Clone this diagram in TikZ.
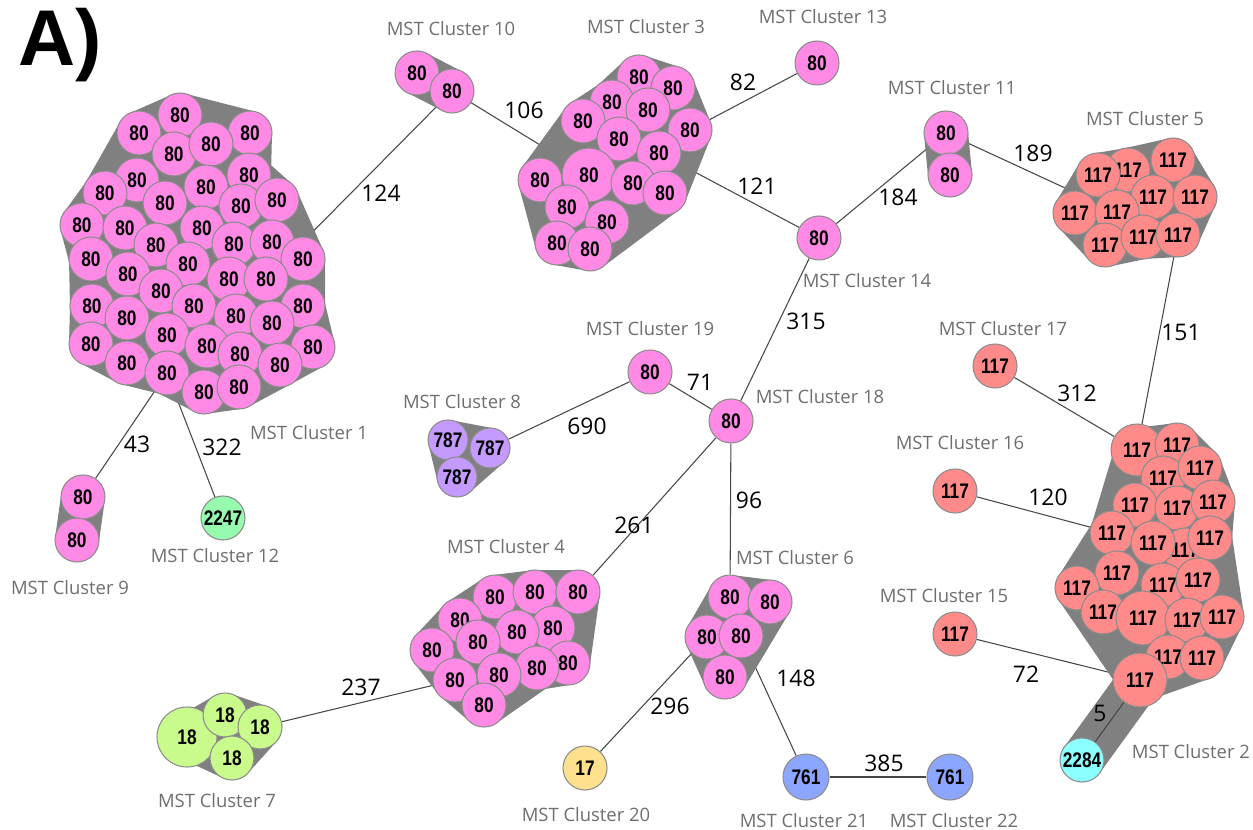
\documentclass[tikz,border=0pt]{standalone}
\usepackage{fontspec}
\setmainfont{Open Sans}
\newfontfamily\numfont{Liberation Sans}[FakeStretch=0.82]
\newfontfamily\headfont{Liberation Sans}
\usetikzlibrary{backgrounds}

\definecolor{pinkn}{RGB}{255,138,230}
\definecolor{salmonn}{RGB}{255,138,138}
\definecolor{purplen}{RGB}{196,154,255}
\definecolor{mintn}{RGB}{150,250,175}
\definecolor{limen}{RGB}{200,250,140}
\definecolor{yellown}{RGB}{255,224,140}
\definecolor{bluen}{RGB}{140,165,255}
\definecolor{cyann}{RGB}{140,255,255}
\definecolor{hullgray}{RGB}{128,128,128}
\definecolor{nodeedge}{RGB}{140,140,140}
\definecolor{labgray}{RGB}{110,110,110}
\definecolor{linkgray}{RGB}{70,70,70}

\tikzset{
	clu/.style={circle, draw=nodeedge, line width=0.6pt, inner sep=0pt, minimum size=0.88cm,
		font=\numfont\bfseries\fontsize{12}{12}\selectfont},
	big/.style={minimum size=1.08cm},
	pk/.style={clu, fill=pinkn},
	sal/.style={clu, fill=salmonn},
	clab/.style={text=labgray, font=\fontsize{10.5}{12}\selectfont},
	elab/.style={font=\fontsize{13}{14}\selectfont},
	hull/.style={draw=hullgray, fill=hullgray, line width=0.88cm, line join=round, line cap=round},
	link/.style={draw=linkgray, line width=0.6pt}
}

\begin{document}
\begin{tikzpicture}[x=0.02cm, y=-0.02cm]
	\useasboundingbox (0,0) rectangle (1253,830);
	\node[font=\headfont\bfseries\fontsize{45}{45}\selectfont] (tag) at (60,45) {A)};

	% MST Cluster 1
	\node[pk] (c1-1) at (180,115) {80};
	\node[pk] (c1-2) at (139,133) {80};
	\node[pk] (c1-3) at (250,133) {80};
	\node[pk] (c1-4) at (174,154) {80};
	\node[pk] (c1-5) at (211,144) {80};
	\node[pk] (c1-6) at (137,180) {80};
	\node[pk] (c1-7) at (249,175) {80};
	\node[pk] (c1-8) at (105,193) {80};
	\node[pk] (c1-9) at (165,203) {80};
	\node[pk] (c1-10) at (206,187) {80};
	\node[pk] (c1-11) at (241,206) {80};
	\node[pk] (c1-12) at (277,200) {80};
	\node[pk] (c1-13) at (82,225) {80};
	\node[pk] (c1-14) at (125,228) {80};
	\node[pk] (c1-15) at (202,228) {80};
	\node[pk] (c1-16) at (156,245) {80};
	\node[pk] (c1-17) at (234,244) {80};
	\node[pk] (c1-18) at (272,242) {80};
	\node[pk] (c1-19) at (303,259) {80};
	\node[pk] (c1-20) at (91,259) {80};
	\node[pk] (c1-21) at (128,274) {80};
	\node[pk] (c1-22) at (188,264) {80};
	\node[pk] (c1-23) at (229,279) {80};
	\node[pk] (c1-24) at (266,279) {80};
	\node[pk] (c1-25) at (161,291) {80};
	\node[pk] (c1-26) at (303,306) {80};
	\node[pk] (c1-27) at (92,306) {80};
	\node[pk] (c1-28) at (127,318) {80};
	\node[pk] (c1-29) at (194,306) {80};
	\node[pk] (c1-30) at (236,316) {80};
	\node[pk] (c1-31) at (272,323) {80};
	\node[pk] (c1-32) at (167,335) {80};
	\node[pk] (c1-33) at (313,347) {80};
	\node[pk] (c1-34) at (91,344) {80};
	\node[pk] (c1-35) at (127,363) {80};
	\node[pk] (c1-36) at (207,346) {80};
	\node[pk] (c1-37) at (240,354) {80};
	\node[pk] (c1-38) at (280,365) {80};
	\node[pk] (c1-39) at (167,373) {80};
	\node[pk] (c1-40) at (204,392) {80};
	\node[pk] (c1-41) at (239,387) {80};

	% MST Cluster 3
	\node[pk] (c3-1) at (639,77) {80};
	\node[pk] (c3-2) at (673,88) {80};
	\node[pk] (c3-3) at (612,102) {80};
	\node[pk] (c3-4) at (648,110) {80};
	\node[pk] (c3-5) at (583,121) {80};
	\node[pk] (c3-6) at (690,130) {80};
	\node[pk] (c3-7) at (619,139) {80};
	\node[pk] (c3-8) at (659,153) {80};
	\node[pk,big] (c3-9) at (589,175) {80};
	\node[pk] (c3-10) at (540,180) {80};
	\node[pk] (c3-11) at (633,183) {80};
	\node[pk] (c3-12) at (665,193) {80};
	\node[pk] (c3-13) at (567,207) {80};
	\node[pk] (c3-14) at (607,222) {80};
	\node[pk] (c3-15) at (557,243) {80};
	\node[pk] (c3-16) at (590,249) {80};

	% MST Cluster 5
	\node[sal] (c5-1) at (1128,170) {117};
	\node[sal] (c5-2) at (1173,160) {117};
	\node[sal] (c5-3) at (1098,175) {117};
	\node[sal] (c5-4) at (1153,197) {117};
	\node[sal] (c5-5) at (1195,197) {117};
	\node[sal] (c5-6) at (1075,213) {117};
	\node[sal] (c5-7) at (1117,212) {117};
	\node[sal] (c5-8) at (1105,245) {117};
	\node[sal] (c5-9) at (1143,237) {117};
	\node[sal] (c5-10) at (1178,235) {117};

	% MST Cluster 2
	\node[sal,minimum size=1.04cm] (c2-1) at (1137,450) {117};
	\node[sal] (c2-2) at (1177,445) {117};
	\node[sal] (c2-3) at (1163,478) {117};
	\node[sal] (c2-4) at (1200,468) {117};
	\node[sal] (c2-5) at (1135,505) {117};
	\node[sal] (c2-6) at (1177,508) {117};
	\node[sal] (c2-7) at (1213,502) {117};
	\node[sal] (c2-8) at (1112,533) {117};
	\node[sal] (c2-10) at (1185,550) {117};
	\node[sal] (c2-9) at (1153,543) {117};
	\node[sal] (c2-11) at (1210,538) {117};
	\node[sal] (c2-12) at (1117,573) {117};
	\node[sal] (c2-13) at (1077,588) {117};
	\node[sal] (c2-14) at (1163,585) {117};
	\node[sal] (c2-15) at (1198,580) {117};
	\node[sal] (c2-16) at (1103,612) {117};
	\node[sal,big] (c2-17) at (1143,618) {117};
	\node[sal] (c2-18) at (1187,620) {117};
	\node[sal] (c2-19) at (1222,617) {117};
	\node[sal] (c2-20) at (1168,657) {117};
	\node[sal] (c2-21) at (1202,658) {117};
	\node[sal,big] (c2-22) at (1140,680) {117};
	\node[clu,fill=cyann] (c2x) at (1082,760) {2284};

	% MST Cluster 4
	\node[pk] (c4-1) at (495,597) {80};
	\node[pk] (c4-2) at (535,592) {80};
	\node[pk] (c4-3) at (578,592) {80};
	\node[pk] (c4-4) at (460,620) {80};
	\node[pk] (c4-5) at (553,628) {80};
	\node[pk] (c4-6) at (517,632) {80};
	\node[pk] (c4-7) at (478,642) {80};
	\node[pk] (c4-8) at (432,650) {80};
	\node[pk] (c4-9) at (568,663) {80};
	\node[pk] (c4-10) at (537,668) {80};
	\node[pk] (c4-11) at (499,675) {80};
	\node[pk] (c4-12) at (455,680) {80};
	\node[pk] (c4-13) at (484,705) {80};

	% MST Cluster 6
	\node[pk] (c6-1) at (730,597) {80};
	\node[pk] (c6-2) at (770,602) {80};
	\node[pk] (c6-3) at (707,637) {80};
	\node[pk] (c6-4) at (741,636) {80};
	\node[pk] (c6-5) at (725,677) {80};

	% MST Cluster 7
	\node[clu,fill=limen,minimum size=1.2cm] (c7-1) at (187,737) {18};
	\node[clu,fill=limen] (c7-2) at (225,715) {18};
	\node[clu,fill=limen] (c7-3) at (260,727) {18};
	\node[clu,fill=limen] (c7-4) at (232,758) {18};

	% MST Cluster 8
	\node[clu,fill=purplen,minimum size=0.8cm] (c8-1) at (448,440) {787};
	\node[clu,fill=purplen,minimum size=0.8cm] (c8-2) at (490,448) {787};
	\node[clu,fill=purplen,minimum size=0.8cm] (c8-3) at (457,477) {787};

	% small clusters
	\node[pk] (c9-1) at (83,497) {80};
	\node[pk] (c9-2) at (77,540) {80};
	\node[pk] (c10-1) at (417,73) {80};
	\node[pk] (c10-2) at (452,91) {80};
	\node[pk] (c11-1) at (946,133) {80};
	\node[pk] (c11-2) at (950,175) {80};
	\node[clu,fill=mintn] (c12) at (223,518) {2247};
	\node[pk] (c13) at (817,63) {80};
	\node[pk] (c14) at (819,238) {80};
	\node[sal] (c15) at (955,634) {117};
	\node[sal] (c16) at (955,491) {117};
	\node[sal] (c17) at (995,366) {117};
	\node[pk] (c18) at (731,421) {80};
	\node[pk] (c19) at (650,372) {80};
	\node[clu,fill=yellown] (c20) at (585,768) {17};
	\node[clu,fill=bluen,minimum size=0.92cm] (c21) at (806,777) {761};
	\node[clu,fill=bluen,minimum size=0.92cm] (c22) at (950,777) {761};

	\draw[link] (c2-22) -- (c2x);

	\begin{scope}[on background layer]
	% links between clusters
	\draw[link] (c1-24) -- (c10-2);
	\draw[link] (c10-2) -- (c3-9);
	\draw[link] (c3-6) -- (c13);
	\draw[link] (c3-8) -- (c14);
	\draw[link] (c14) -- (c11-1);
	\draw[link] (c11-1) -- (c5-7);
	\draw[link] (c5-10) -- (c2-1);
	\draw[link] (c17) -- (c2-1);
	\draw[link] (c16) -- (c2-8);
	\draw[link] (c15) -- (c2-22);
	\draw[link] (c14) -- (c18);
	\draw[link] (c19) -- (c18);
	\draw[link] (c19) -- (c8-2);
	\draw[link] (c18) -- (c4-3);
	\draw[link] (c18) -- (c6-1);
	\draw[link] (c6-3) -- (c20);
	\draw[link] (c6-4) -- (c21);
	\draw[link] (c21) -- (c22);
	\draw[link] (c4-12) -- (c7-3);
	\draw[link] (c1-39) -- (c9-1);
	\draw[link] (c1-39) -- (c12);

	% grey hulls
	\filldraw[hull] (c1-1.center) -- (c1-3.center) -- (c1-7.center) -- (c1-12.center) -- (c1-19.center)
		-- (c1-26.center) -- (c1-33.center) -- (c1-38.center) -- (c1-41.center) -- (c1-40.center)
		-- (c1-39.center) -- (c1-35.center) -- (c1-34.center) -- (c1-27.center) -- (c1-20.center)
		-- (c1-13.center) -- (c1-8.center) -- (c1-2.center) -- cycle;
	\filldraw[hull] (c3-1.center) -- (c3-2.center) -- (c3-6.center) -- (c3-12.center) -- (c3-16.center)
		-- (c3-15.center) -- (c3-10.center) -- (c3-5.center) -- (c3-3.center) -- cycle;
	\filldraw[hull] (c5-1.center) -- (c5-2.center) -- (c5-5.center) -- (c5-10.center) -- (c5-9.center)
		-- (c5-8.center) -- (c5-6.center) -- (c5-3.center) -- cycle;
	\filldraw[hull] (c2-1.center) -- (c2-2.center) -- (c2-4.center) -- (c2-7.center) -- (c2-11.center)
		-- (c2-19.center) -- (c2-21.center) -- (c2-22.center) -- (c2-13.center) -- (c2-8.center) -- cycle;
	\draw[hull] (c2-22.center) -- (c2x.center);
	\filldraw[hull] (c4-1.center) -- (c4-2.center) -- (c4-3.center) -- (c4-9.center) -- (c4-10.center)
		-- (c4-13.center) -- (c4-12.center) -- (c4-8.center) -- (c4-4.center) -- cycle;
	\filldraw[hull] (c6-1.center) -- (c6-2.center) -- (c6-5.center) -- (c6-3.center) -- cycle;
	\filldraw[hull] (c7-1.center) -- (c7-2.center) -- (c7-3.center) -- (c7-4.center) -- cycle;
	\filldraw[hull,line width=0.8cm] (c8-1.center) -- (c8-2.center) -- (c8-3.center) -- cycle;
	\draw[hull] (c9-1.center) -- (c9-2.center);
	\draw[hull] (c10-1.center) -- (c10-2.center);
	\draw[hull] (c11-1.center) -- (c11-2.center);
	\end{scope}

	% cluster names
	\node[clab] (n1) at (309,433) {MST Cluster 1};
	\node[clab,anchor=east,inner sep=1pt] (n2) at (1252,752) {MST Cluster 2};
	\node[clab] (n3) at (646,27) {MST Cluster 3};
	\node[clab] (n4) at (506,547) {MST Cluster 4};
	\node[clab] (n5) at (1145,119) {MST Cluster 5};
	\node[clab] (n6) at (795,558) {MST Cluster 6};
	\node[clab] (n7) at (217,801) {MST Cluster 7};
	\node[clab] (n8) at (462,402) {MST Cluster 8};
	\node[clab] (n9) at (70,588) {MST Cluster 9};
	\node[clab] (n10) at (451,29) {MST Cluster 10};
	\node[clab] (n11) at (952,88) {MST Cluster 11};
	\node[clab] (n12) at (215,556) {MST Cluster 12};
	\node[clab] (n13) at (823,17) {MST Cluster 13};
	\node[clab] (n14) at (867,281) {MST Cluster 14};
	\node[clab] (n15) at (944,596) {MST Cluster 15};
	\node[clab] (n16) at (960,443) {MST Cluster 16};
	\node[clab] (n17) at (1003,329) {MST Cluster 17};
	\node[clab] (n18) at (820,397) {MST Cluster 18};
	\node[clab] (n19) at (650,329) {MST Cluster 19};
	\node[clab] (n20) at (586,815) {MST Cluster 20};
	\node[clab] (n21) at (804,821) {MST Cluster 21};
	\node[clab] (n22) at (954,821) {MST Cluster 22};

	% link weights
	\node[elab] (w124) at (381,193) {124};
	\node[elab] (w106) at (524,110) {106};
	\node[elab] (w82) at (743,82) {82};
	\node[elab] (w121) at (757,186) {121};
	\node[elab] (w184) at (898,197) {184};
	\node[elab] (w189) at (1033,153) {189};
	\node[elab] (w315) at (806,321) {315};
	\node[elab] (w151) at (1181,332) {151};
	\node[elab] (w71) at (700,382) {71};
	\node[elab] (w690) at (587,426) {690};
	\node[elab] (w312) at (1077,393) {312};
	\node[elab] (w43) at (137,444) {43};
	\node[elab] (w322) at (222,447) {322};
	\node[elab] (w120) at (1048,497) {120};
	\node[elab] (w96) at (749,500) {96};
	\node[elab] (w261) at (634,525) {261};
	\node[elab] (w237) at (361,687) {237};
	\node[elab] (w148) at (796,678) {148};
	\node[elab] (w72) at (1026,674) {72};
	\node[elab] (w296) at (670,706) {296};
	\node[elab] (w5) at (1100,713) {5};
	\node[elab] (w385) at (884,763) {385};
\end{tikzpicture}
\end{document}
